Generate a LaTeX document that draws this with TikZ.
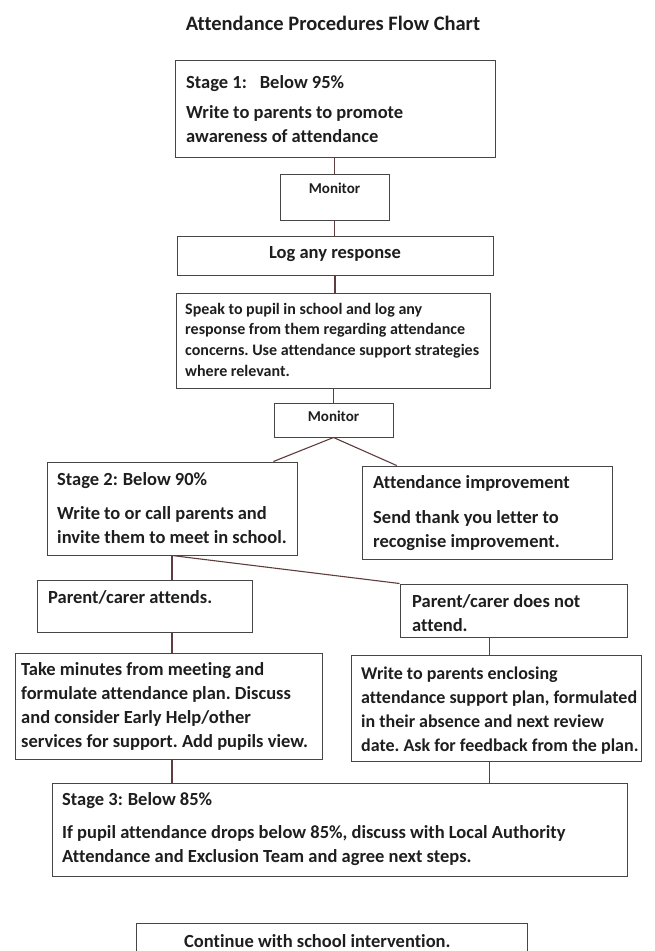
\documentclass[tikz,border=0pt]{standalone}
\usepackage{fontspec}
\setmainfont{Carlito}[Ligatures={NoCommon,NoRequired,NoContextual}]
\usetikzlibrary{calc}
\definecolor{boxc}{RGB}{70,70,70}
\definecolor{linec}{RGB}{95,60,62}
\definecolor{textc}{RGB}{30,30,30}
\frenchspacing
\newcommand\mkbox[5]{\node[box, minimum width={(#4-#2)*1pt}, minimum height={(#5-#3)*1pt}] (#1) at ({(#2+#4)/2},{(#3+#5)/2}) {};}
\begin{document}
\begin{tikzpicture}[x=1pt,y=-1pt,
  box/.style={draw=boxc, line width=1pt, inner sep=0pt, rectangle},
  conn/.style={draw=linec, line width=1.1pt},
  txt/.style={inner sep=0pt, anchor=north west, text=textc, align=left},
  big/.style={font=\bfseries\fontsize{18.5}{24}\selectfont},
  bigs/.style={font=\bfseries\fontsize{18}{24}\selectfont},
  mid/.style={font=\bfseries\fontsize{16}{20.7}\selectfont},
  mon/.style={font=\bfseries\fontsize{15}{17}\selectfont}]
\useasboundingbox (0,0) rectangle (654,951);
\clip (0,0) rectangle (654,951);
\fill[white] (0,0) rectangle (654,951);

% title
\node[inner sep=0pt, text=textc, font=\bfseries\fontsize{20.5}{24}\selectfont, anchor=base] (title) at (333,30) {Attendance Procedures Flow Chart};

% boxes
\mkbox{s1}{175}{60}{495}{157}
\mkbox{m1}{280}{174}{389}{220}
\mkbox{log}{177}{236}{493}{275}
\mkbox{speak}{176}{293}{490}{388}
\mkbox{m2}{274}{403}{393}{437}
\mkbox{s2}{47}{462}{297}{555}
\mkbox{imp}{362}{466}{612}{559}
\mkbox{pa}{37}{580}{252}{632}
\mkbox{pn}{400}{584}{627}{637}
\mkbox{tm}{15}{653}{322}{759}
\mkbox{wp}{351}{655}{641}{761}
\mkbox{s3}{52}{783}{627}{876}
\mkbox{cont}{136}{923}{527}{975}

% texts (north = first baseline - 0.7*skip)
\node[txt,big] (t1a) at (186,{88-16.8}) {\strut Stage 1:\hspace{13pt}Below 95\%};
\node[txt,big] (t1b) at (186,{118-16.8}) {\strut Write to parents to promote\\awareness of attendance};
\node[txt,mon, anchor=base] (tm1) at (334.5,193) {Monitor};
\node[txt,big, anchor=base] (tlog) at (335,258) {Log any response};
\node[txt,mid] (tsp) at (185,{314-14.5}) {\strut Speak to pupil in school and log any\\response from them regarding attendance\\concerns. Use attendance support strategies\\where relevant.};
\node[txt,mon, anchor=base] (tm2) at (333.5,421.5) {Monitor};
\node[txt,big] (t2a) at (57,{485-16.8}) {\strut Stage 2:\hspace{5pt}Below 90\%};
\node[txt,big] (t2b) at (57,{519-16.8}) {\strut Write to or call parents and\\invite them to meet in school.};
\node[txt,big] (tia) at (373,{488-16.8}) {\strut Attendance improvement};
\node[txt,big] (tib) at (373,{523-16.8}) {\strut Send thank you letter to\\recognise improvement.};
\node[txt,big] (tpa) at (48,{603-16.8}) {\strut Parent/carer attends.};
\node[txt,big] (tpn) at (412,{607-16.8}) {\strut Parent/carer does not\\attend.};
\node[txt,big] (ttm) at (21,{675-16.8}) {\strut Take minutes from meeting and\\formulate attendance plan. Discuss\\and consider Early Help/other\\services for support. Add pupils view.};
\node[txt,bigs] (twp) at (361,{679-16.8}) {\strut Write to parents enclosing\\attendance support plan, formulated\\in their absence and next review\\date. Ask for feedback from the plan.};
\node[txt,big] (t3a) at (62,{805-16.8}) {\strut Stage 3:\hspace{5pt}Below 85\%};
\node[txt,big] (t3b) at (62,{838-16.8}) {\strut If pupil attendance drops below 85\%, discuss with Local Authority\\Attendance and Exclusion Team and agree next steps.};
\node[txt,big] (tcont) at (184,{947-16.8}) {\strut Continue with school intervention.};

% connectors
\coordinate (xl) at (s2.south);
\coordinate (xr) at ($(pn.south west)!0.396!(pn.south east)$);
\draw[conn] (m1.north |- s1.south) -- (m1.north);
\draw[conn] (m1.south) -- (m1.south |- log.north);
\draw[conn] (log.south) -- (log.south |- speak.north);
\draw[conn] (m2.north |- speak.south) -- (m2.north);
\draw[conn] ($(s2.north west)!0.904!(s2.north east)$) -- (m2.south) -- ($(imp.north west)!0.14!(imp.north east)$);
\draw[conn] (xl) -- (xl |- pa.north);
\draw[conn] (xl) -- (pn.north west);
\draw[conn] (xl |- pa.south) -- (xl |- tm.north);
\draw[conn] (xl |- tm.south) -- (xl |- s3.north);
\draw[conn] (xr) -- (xr |- wp.north);
\draw[conn] (xr |- wp.south) -- (xr |- s3.north);
\end{tikzpicture}
\end{document}
